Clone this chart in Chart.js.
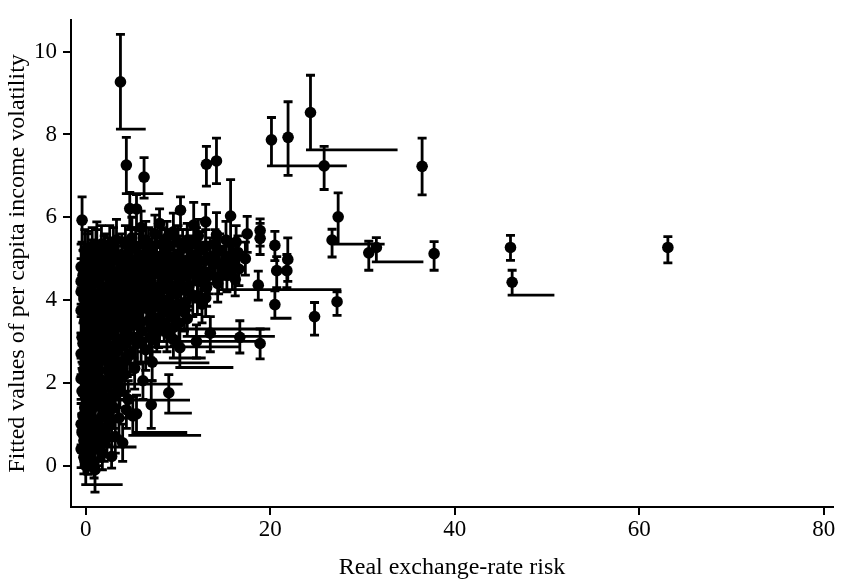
<!DOCTYPE html>
<html>
<head>
<meta charset="utf-8">
<script src="https://cdn.jsdelivr.net/npm/chart.js@4.4.1/dist/chart.umd.min.js"></script>
<style>
  html, body { margin: 0; padding: 0; background: #ffffff; }
  #wrap { width: 851px; height: 584px; }
</style>
</head>
<body>
<div id="wrap"><canvas id="c" width="851" height="584"></canvas></div>
<script>
// ---------- DATA ----------
const xTitle = 'Real exchange-rate risk';
const yTitle = 'Fitted values of per capita income volatility';
const xTicks = [0, 20, 40, 60, 80];
const yTicks = [0, 2, 4, 6, 8, 10];

// Isolated points: x, fitted value, lower / upper bound, end of horizontal connector (null = none)
const sparseX  = [3.76, 4.4, 6.32, 13.08, 14.17, 20.13, 21.93, 24.36, 25.84, 27.36,
                  26.7, 30.68, 31.5, 36.46, 37.76, 46.04, 46.22, 63.1, 20.5, 24.8,
                  27.24, 13.0, 14.17, 15.7, 17.5, 18.9, 18.9, 20.5, 21.9, 21.8,
                  20.7, 18.7, 15.9, -0.4, 10.27, 11.7, 4.77, 5.5, 18.9, 16.7,
                  13.5, 12.0, 7.1, 2.8, 4.0, 1.0, 0.25, 9.0,
                  9.5, 11.0, 8.0, 7.5, 9.5, 3.0, 10.2, 2.8, 3.5, 5.5, 5.1, 1.0, 0.0];
const sparseY  = [9.27, 7.26, 6.97, 7.28, 7.36, 7.87, 7.93, 8.53, 7.24, 6.01,
                  5.45, 5.14, 5.27, 7.23, 5.12, 5.27, 4.43, 5.27, 3.89, 3.6,
                  3.96, 5.89, 5.58, 6.03, 5.6, 5.68, 5.49, 5.32, 4.98, 4.71,
                  4.71, 4.36, 4.83, 5.93, 6.17, 5.81, 6.21, 6.2, 2.95, 3.1,
                  3.2, 3.0, 1.47, 0.22, 0.55, -0.1, 0.15, 1.76,
                  3.75, 3.55, 3.45, 3.3, 3.05, 2.9, 2.85, 2.45, 2.05, 1.25, 1.2, 0.9, 0.0];
const sparseLo = [8.13, 6.57, 6.46, 6.75, 6.81, 7.24, 7.01, 7.63, 6.67, 5.35,
                  5.04, 4.72, 4.92, 6.54, 4.72, 4.96, 4.12, 4.9, 3.56, 3.15,
                  3.63, 5.4, 5.1, 5.3, 5.15, 5.3, 5.1, 4.95, 4.45, 4.3,
                  4.3, 4.0, 4.25, 5.4, 5.7, 5.3, 5.7, 5.7, 2.58, 2.72,
                  2.75, 2.6, 0.9, -0.06, 0.1, -0.64, -0.21, 1.27,
                  3.3, 3.12, 3.0, 2.87, 2.6, 2.48, 2.37, 1.97, 1.58, 0.8, 0.73, 0.45, -0.46];
const sparseHi = [10.42, 7.93, 7.44, 7.71, 7.91, 8.41, 8.79, 9.43, 7.71, 6.59,
                  5.71, 5.42, 5.51, 7.91, 5.41, 5.56, 4.72, 5.53, 4.22, 3.94,
                  4.2, 6.31, 6.11, 6.91, 6.02, 5.96, 5.85, 5.66, 5.5, 5.1,
                  5.05, 4.7, 5.3, 6.49, 6.49, 6.36, 6.6, 6.55, 3.3, 3.5,
                  3.6, 3.4, 2.05, 0.6, 1.0, 0.4, 0.55, 2.2,
                  4.2, 3.95, 3.9, 3.75, 3.5, 3.35, 3.3, 2.9, 2.5, 1.7, 1.65, 1.35, 0.45];
const sparseEnd = [6.5, 8.4, null, null, null, 28.3, null, 33.8, null, 32.4,
                   null, null, 36.6, null, null, null, 50.8, null, 22.3, null,
                   null, null, null, null, null, null, null, null, null, null,
                   null, null, 27.7, null, null, null, null, null, null, null,
                   null, null, null, null, null, null, null, 11.5,
                   20.0, 20.5, 18.5, 16.7, 13.0, 13.4, 16.0, 10.5, 11.3, 11.0, 12.5, 5.5, 4.0];

// Dense cluster near the origin: x, fitted value, half-width of the interval
const blobX = [0.3, 0.9, -0.2, 1.3, 0.5, 1.8, 0.1, -0.5, -0.2, 2.3,
               -0.3, 0.6, 1.4, 2.1, 0.2, 1.0, 2.5, 3.0, 1.7, -0.4, -0.5, 3.6,
               0.5, 1.3, 2.2, 3.1, 3.7, -0.2, 0.9, 1.8, 2.7, 3.5, 4.2, -0.5, -0.5, 4.6,
               0.3, 1.2, 2.1, 3.0, 3.9, 4.8, 5.6, 6.5, -0.4, 0.6, 1.5, 2.5, 3.4, 4.3, 5.2, 6.1, 7.0, 7.9, 8.8,
               -0.1, 1.0, 2.0, 2.9, 3.8, 4.7, 5.7, 6.6, 7.5, 8.4, 9.3, 10.1, -0.5, -0.3,
               -0.5, 0.4, 1.4, 2.4, 3.3, 4.2, 5.1, 6.1, 7.0, 7.9, 8.9, 9.8, 10.8, 11.6,
               0.0, 0.9, 1.9, 2.8, 3.7, 4.7, 5.6, 6.6, 7.5, 8.4, 9.3, 10.3, 11.2, 12.2, 13.1, 14.3, 12.6,
               -0.3, 0.6, 1.6, 2.5, 3.5, 4.4, 5.3, 6.3, 7.2, 8.1, 9.1, 10.0, 11.0, 11.9, 12.8, 13.8, 14.8, 15.7, 16.6,
               0.2, 1.1, 2.0, 3.0, 3.9, 4.9, 5.8, 6.8, 7.7, 8.6, 9.6, 10.5, 11.5, 12.4, 13.5, 14.5, 15.5, 16.5, 17.3, -0.5,
               1.2, 3.33, 0.25, 2.06, 5.0, 6.5, 7.5, 8.8, 9.5, 11.0, 12.2, 15.2, 16.3, 6.0, 8.0,
               5.3, 6.2, 7.2, 4.4, 2.0, 3.2];
const blobY = [0.35, 0.1, 0.6, 0.45, 0.75, 0.3, 1.0, 0.4, 0.2, 0.7,
               1.2, 1.35, 1.1, 1.3, 1.55, 1.7, 0.95, 1.4, 1.5, 1.8, 1.0, 1.15,
               2.0, 2.15, 1.9, 2.1, 1.85, 2.3, 2.45, 2.55, 2.35, 2.5, 2.2, 2.7, 2.1, 1.6,
               2.85, 2.8, 2.95, 2.75, 2.9, 2.7, 2.95, 2.8, 3.1, 3.2, 3.3, 3.15, 3.35, 3.2, 3.4, 3.25, 3.1, 3.35, 3.2,
               3.5, 3.6, 3.55, 3.7, 3.55, 3.75, 3.6, 3.8, 3.55, 3.7, 3.6, 3.45, 3.75, 2.95,
               4.2, 4.0, 3.95, 4.05, 3.9, 4.1, 3.95, 4.15, 3.95, 4.1, 4.0, 4.15, 3.95, 4.1,
               4.3, 4.4, 4.3, 4.45, 4.3, 4.45, 4.35, 4.5, 4.3, 4.45, 4.35, 4.5, 4.35, 4.45, 4.3, 4.4, 3.9,
               4.6, 4.75, 4.65, 4.8, 4.7, 4.85, 4.7, 4.85, 4.7, 4.9, 4.75, 4.9, 4.75, 4.9, 4.7, 4.85, 4.7, 4.95, 4.75,
               5.05, 5.15, 5.05, 5.2, 5.1, 5.25, 5.1, 5.25, 5.05, 5.2, 5.05, 5.25, 5.1, 5.2, 5.05, 5.2, 5.05, 5.15, 5.0, 4.8,
               5.3, 5.45, 5.25, 5.2, 5.5, 5.45, 5.6, 5.5, 5.65, 5.45, 5.55, 5.45, 5.4, 5.75, 5.85,
               2.35, 2.05, 2.5, 1.35, 0.55, 0.7];
const blobSE = [0.45, 0.4, 0.5, 0.45, 0.5, 0.4, 0.5, 0.45, 0.4, 0.45,
                0.5, 0.55, 0.5, 0.5, 0.5, 0.55, 0.45, 0.5, 0.5, 0.55, 0.5, 0.45,
                0.55, 0.5, 0.55, 0.5, 0.45, 0.55, 0.6, 0.5, 0.55, 0.5, 0.5, 0.5, 0.5, 0.45,
                0.6, 0.55, 0.6, 0.5, 0.55, 0.5, 0.5, 0.5, 0.6, 0.6, 0.55, 0.6, 0.55, 0.5, 0.55, 0.5, 0.5, 0.5, 0.45,
                0.6, 0.6, 0.6, 0.55, 0.55, 0.6, 0.55, 0.5, 0.5, 0.5, 0.5, 0.45, 0.55, 0.5,
                0.6, 0.6, 0.6, 0.6, 0.55, 0.6, 0.55, 0.6, 0.55, 0.5, 0.5, 0.5, 0.45, 0.5,
                0.6, 0.6, 0.6, 0.6, 0.55, 0.6, 0.55, 0.55, 0.5, 0.5, 0.5, 0.5, 0.5, 0.5, 0.45, 0.45, 0.45,
                0.6, 0.6, 0.6, 0.55, 0.6, 0.55, 0.55, 0.55, 0.5, 0.5, 0.5, 0.5, 0.5, 0.5, 0.45, 0.45, 0.45, 0.45, 0.4,
                0.55, 0.55, 0.5, 0.55, 0.5, 0.5, 0.5, 0.5, 0.5, 0.5, 0.45, 0.45, 0.45, 0.45, 0.45, 0.4, 0.4, 0.4, 0.4, 0.55,
                0.59, 0.5, 0.41, 0.4, 0.5, 0.45, 0.45, 0.4, 0.45, 0.4, 0.4, 0.45, 0.4, 0.4, 0.35,
                0.5, 0.45, 0.45, 0.45, 0.45, 0.4];

// More points inside the dense cluster
const clusterX = [0.6, 1.1, -0.4, 1.6,
                  0.3, 0.9, 1.8, 2.5, -0.1, 1.3, 0.0, 2.8,
                  0.2, 1.0, 1.7, 2.6, 3.3, 0.4, 1.3, 2.2, 3.0, 3.9, 4.5,
                  0.8, 1.7, 2.6, 3.5, 4.4, 5.2, 6.0, 0.2, 1.2, 2.2, 3.1, 4.0, 4.9, 5.9, 6.8, 7.7, 8.5, 9.6,
                  0.1, 0.7, 1.6, 2.5, 3.4, 4.3, 5.3, 6.2, 7.1, 8.0, 9.0, 10.0, 10.7,
                  -0.2, 0.9, 1.9, 2.9, 3.8, 4.8, 5.6, 6.5, 7.4, 8.3, 9.3, 10.3, 11.2, 12.1, 13.0,
                  0.4, 1.3, 2.2, 3.1, 4.0, 5.0, 5.9, 6.9, 7.8, 8.8,
                  9.7, 10.6, 11.6, 12.5, 13.4, 14.4, 15.3, 16.2, -0.5,
                  0.7, 1.6, 2.6, 3.5, 4.4, 5.3, 6.3, 7.2, 8.2, 9.1,
                  10.1, 11.0, 12.0, 12.9, 14.0, 15.0, 16.0,
                  -0.1, 0.7, 1.7, 2.6, 4.3, 5.4, 6.2, 7.2, 8.2, 9.1,
                  10.0, 11.0, 12.0, 13.0, 14.0,
                  0.0, 0.7, 1.5, 2.4, 3.3, 0.1, 1.0, 2.0, 3.2, 0.5,
                  1.5, 2.6, 3.8, 4.2, 1.9];
const clusterY = [0.5, 0.75, 0.8, 0.9,
                  1.25, 1.05, 1.2, 1.6, 1.4, 1.85, 1.75, 1.1,
                  2.2, 2.25, 2.05, 2.0, 2.3, 2.6, 2.6, 2.65, 2.55, 2.45, 2.6,
                  3.0, 3.05, 2.85, 3.05, 2.95, 3.1, 3.0, 3.35, 3.45, 3.4, 3.5, 3.4, 3.55, 3.45, 3.5, 3.2, 3.45, 3.35,
                  3.8, 3.75, 3.7, 3.85, 3.7, 3.9, 3.8, 3.95, 3.75, 3.9, 3.8, 3.9, 3.7,
                  4.05, 4.15, 4.1, 4.2, 4.1, 4.25, 4.1, 4.3, 4.15, 4.25, 4.15, 4.25, 4.2, 4.1, 4.05,
                  4.55, 4.5, 4.6, 4.55, 4.6, 4.55, 4.65, 4.6, 4.65, 4.6,
                  4.65, 4.6, 4.65, 4.55, 4.6, 4.55, 4.6, 4.5, 4.45,
                  4.95, 4.9, 5.0, 4.95, 5.05, 4.95, 5.05, 4.9, 5.05, 4.95,
                  5.1, 4.95, 5.05, 4.95, 5.0, 4.9, 5.0,
                  5.2, 5.3, 5.35, 5.35, 5.35, 5.3, 5.35, 5.3, 5.35, 5.3,
                  5.4, 5.3, 5.35, 5.3, 5.35,
                  2.45, 2.35, 2.8, 2.3, 2.75, 3.05, 1.45, 1.65, 1.75, 1.9,
                  0.55, 1.35, 2.15, 3.0, 3.2];
const clusterSE = [0.45, 0.45, 0.45, 0.45,
                   0.5, 0.5, 0.5, 0.5, 0.5, 0.5, 0.5, 0.45,
                   0.5, 0.5, 0.5, 0.5, 0.5, 0.55, 0.5, 0.5, 0.5, 0.5, 0.45,
                   0.55, 0.55, 0.55, 0.55, 0.5, 0.5, 0.5, 0.55, 0.55, 0.55, 0.55, 0.5, 0.5, 0.5, 0.5, 0.45, 0.45, 0.45,
                   0.6, 0.55, 0.55, 0.55, 0.55, 0.55, 0.5, 0.5, 0.5, 0.5, 0.5, 0.45, 0.45,
                   0.6, 0.55, 0.55, 0.55, 0.55, 0.55, 0.5, 0.5, 0.5, 0.5, 0.5, 0.45, 0.45, 0.45, 0.45,
                   0.55, 0.55, 0.5, 0.5, 0.5, 0.5, 0.5, 0.5, 0.5, 0.5,
                   0.45, 0.45, 0.45, 0.45, 0.45, 0.4, 0.4, 0.4, 0.55,
                   0.5, 0.5, 0.5, 0.5, 0.45, 0.45, 0.45, 0.45, 0.45, 0.45,
                   0.45, 0.45, 0.4, 0.4, 0.4, 0.4, 0.4,
                   0.5, 0.45, 0.45, 0.45, 0.45, 0.45, 0.4, 0.4, 0.4, 0.4,
                   0.4, 0.4, 0.4, 0.4, 0.35,
                   0.5, 0.5, 0.5, 0.5, 0.5, 0.55, 0.5, 0.5, 0.45, 0.5,
                   0.45, 0.45, 0.45, 0.5, 0.5];

// ---------- build records ----------
const records = [];
sparseX.forEach((x, i) => records.push({ x, y: sparseY[i], lo: sparseLo[i], hi: sparseHi[i], end: sparseEnd[i] }));
blobX.forEach((x, i) => records.push({ x, y: blobY[i], lo: blobY[i] - blobSE[i], hi: blobY[i] + blobSE[i], end: null }));
clusterX.forEach((x, i) => records.push({ x, y: clusterY[i], lo: clusterY[i] - clusterSE[i], hi: clusterY[i] + clusterSE[i], end: null }));

const FONT = "'Liberation Serif', 'Times New Roman', serif";
const CAP = 4.5;

const errorBars = {
  id: 'errorBars',
  beforeDatasetsDraw(chart) {
    const { ctx, scales: { x, y } } = chart;
    ctx.save();
    ctx.strokeStyle = '#000';
    ctx.lineWidth = 2.8;
    ctx.lineCap = 'butt';
    for (const p of records) {
      const px = x.getPixelForValue(p.x);
      const pl = y.getPixelForValue(p.lo);
      const ph = y.getPixelForValue(p.hi);
      ctx.beginPath();
      ctx.moveTo(px, pl); ctx.lineTo(px, ph);
      ctx.moveTo(px - CAP, ph); ctx.lineTo(px + CAP, ph);
      ctx.moveTo(px - CAP, pl); ctx.lineTo(px + CAP, pl);
      if (p.end !== null) {
        ctx.moveTo(px, pl); ctx.lineTo(x.getPixelForValue(p.end), pl);
      }
      ctx.stroke();
    }
    ctx.restore();
  }
};

new Chart(document.getElementById('c'), {
  type: 'scatter',
  data: {
    datasets: [{
      data: records.map(r => ({ x: r.x, y: r.y })),
      backgroundColor: '#000',
      borderColor: '#000',
      borderWidth: 0,
      pointRadius: 5.8,
      pointHoverRadius: 5.8
    }]
  },
  plugins: [errorBars],
  options: {
    responsive: false,
    devicePixelRatio: 1,
    animation: false,
    events: [],
    layout: { padding: { left: 0, top: 5, right: 18, bottom: 0 } },
    plugins: { legend: { display: false }, tooltip: { enabled: false } },
    scales: {
      x: {
        type: 'linear',
        min: -1.6,
        max: 81,
        afterBuildTicks: s => { s.ticks = xTicks.map(v => ({ value: v })); },
        afterFit: s => { s.height = 77; },
        grid: { drawOnChartArea: false, drawTicks: true, tickLength: 8, color: '#000', lineWidth: 2 },
        border: { display: true, color: '#000', width: 2 },
        ticks: { color: '#000', font: { family: FONT, size: 23 }, padding: 1, maxRotation: 0, autoSkip: false },
        title: { display: true, text: xTitle, color: '#000', font: { family: FONT, size: 24 }, padding: { top: 0, bottom: 2 } }
      },
      y: {
        type: 'linear',
        min: -1.0,
        max: 10.77,
        afterBuildTicks: s => { s.ticks = yTicks.map(v => ({ value: v })); },
        afterFit: s => { s.width = 71; },
        grid: { drawOnChartArea: false, drawTicks: true, tickLength: 8, color: '#000', lineWidth: 2 },
        border: { display: true, color: '#000', width: 2 },
        ticks: { color: '#000', font: { family: FONT, size: 23 }, padding: 6, autoSkip: false },
        title: { display: true, text: yTitle, color: '#000', font: { family: FONT, size: 24 }, padding: { top: 3, bottom: 0 } }
      }
    }
  }
});
</script>
</body>
</html>
